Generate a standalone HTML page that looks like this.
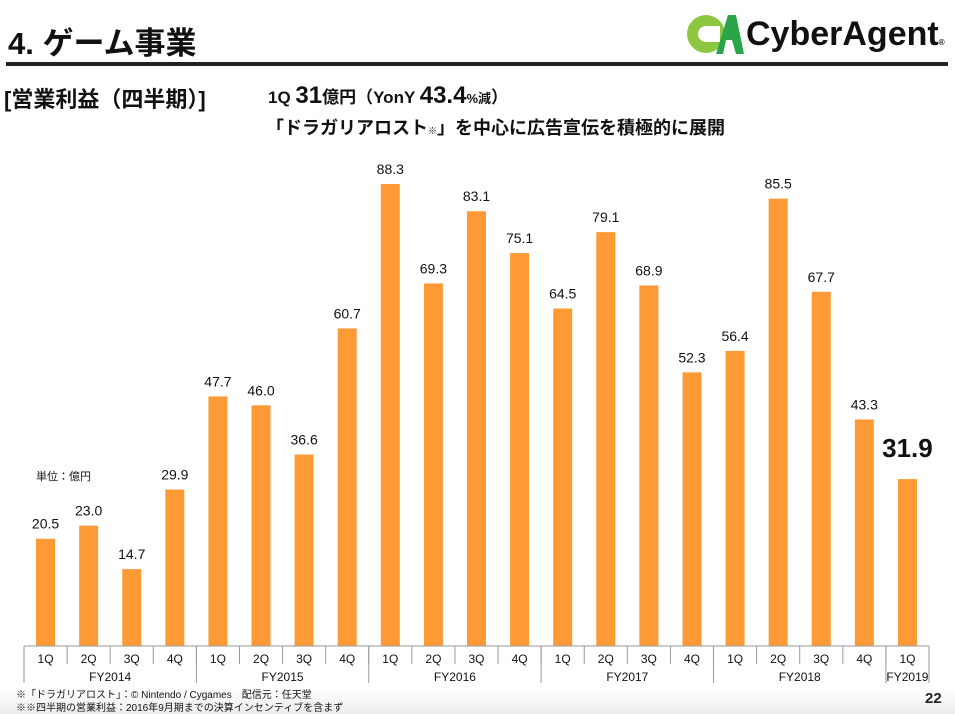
<!DOCTYPE html>
<html><head><meta charset="utf-8"><style>
body{margin:0;width:955px;height:714px;overflow:hidden;background:#fff;font-family:"Liberation Sans","Noto Sans CJK JP",sans-serif;position:relative}
.abs{position:absolute;white-space:nowrap}
</style></head><body>
<div class="abs" style="left:0;top:688px;width:955px;height:26px;background:linear-gradient(#fff,#ececec)"></div>
<div class="abs" style="left:8px;top:18px;font-size:31px;font-weight:bold;color:#111">4. ゲーム事業</div>
<div class="abs" style="left:6px;top:62px;width:942px;height:4px;background:#222"></div>
<div class="abs" style="left:686px;top:12px;height:44px;display:flex;align-items:center">
<svg width="58" height="44" viewBox="0 0 58 44"><circle cx="20" cy="22" r="19" fill="#8dc63f"/><circle cx="20" cy="22" r="8" fill="#fff"/><rect x="20" y="14" width="14" height="16" fill="#fff"/><path d="M30 42 L42 3 L50 3 L58 42 L50 42 L46 28 L40 28 L37 42Z" fill="#2aa54a"/></svg>
<span style="font-size:34px;font-weight:bold;color:#111;margin-left:2px;letter-spacing:0">CyberAgent<span style="font-size:8px">®</span></span></div>
<div class="abs" style="left:4px;top:82px;font-size:22px;font-weight:bold;color:#111">[営業利益（四半期）]</div>
<div class="abs" style="left:268px;top:82px;font-weight:bold;color:#111;font-size:17px">1Q <span style="font-size:24px">31</span>億円（YonY <span style="font-size:24px">43.4</span><span style="font-size:13px">%減</span>）</div>
<div class="abs" style="left:266px;top:114px;font-weight:bold;color:#111;font-size:18px">「ドラガリアロスト<span style="font-size:9px">※</span>」を中心に広告宣伝を積極的に展開</div>
<div class="abs" style="left:36px;top:468px;font-size:11px;color:#111">単位：億円</div>
<svg class="abs" style="left:0;top:0" width="955" height="714" id="chart"></svg>
<div class="abs" style="left:16px;top:686px;font-size:10px;color:#111">※「ドラガリアロスト」：© Nintendo / Cygames　配信元：任天堂</div>
<div class="abs" style="left:16px;top:699px;font-size:10px;color:#111">※※四半期の営業利益：2016年9月期までの決算インセンティブを含まず</div>
<div class="abs" style="left:925px;top:690px;font-size:15px;font-weight:bold;color:#222">22</div>
<script>
const quarters=["1Q","2Q","3Q","4Q","1Q","2Q","3Q","4Q","1Q","2Q","3Q","4Q","1Q","2Q","3Q","4Q","1Q","2Q","3Q","4Q","1Q"];
const values=[20.5,23.0,14.7,29.9,47.7,46.0,36.6,60.7,88.3,69.3,83.1,75.1,64.5,79.1,68.9,52.3,56.4,85.5,67.7,43.3,31.9];
const labels=["20.5","23.0","14.7","29.9","47.7","46.0","36.6","60.7","88.3","69.3","83.1","75.1","64.5","79.1","68.9","52.3","56.4","85.5","67.7","43.3","31.9"];
const fiscalYears=["FY2014","FY2015","FY2016","FY2017","FY2018","FY2019"];
const fyCounts=[4,4,4,4,4,1];
const svg=document.getElementById('chart');const NS='http://www.w3.org/2000/svg';
const x0=24,x1=929,base=646,band=(x1-x0)/values.length,pxPerUnit=5.232,bw=19;
const xs=i=>x0+band*(i+0.5);const ys=v=>base-v*pxPerUnit;
function mk(t,a){const e=document.createElementNS(NS,t);for(const k in a)e.setAttribute(k,a[k]);svg.appendChild(e);return e;}
values.forEach((v,i)=>{
 const r=mk('rect',{x:xs(i)-bw/2,y:ys(v),width:bw,height:base-ys(v),fill:'#fd9a35'});
 
 
 const last=i===values.length-1;
 const t=mk('text',{x:xs(i),y:ys(v)-(last?22:10),'text-anchor':'middle','font-size':last?26:14,'font-weight':last?'bold':'normal',fill:'#111','font-family':'Liberation Sans, sans-serif'});
 t.textContent=labels[i];
 
 
 const q=mk('text',{x:xs(i),y:663,'text-anchor':'middle','font-size':12,fill:'#111','font-family':'Liberation Sans, sans-serif'});
 q.textContent=quarters[i];
 
 
});
const ax=mk('line',{x1:x0,x2:x1,y1:base,y2:base,stroke:'#999','stroke-width':1});


for(let i=0;i<=values.length;i++){const l=mk('line',{x1:x0+band*i,x2:x0+band*i,y1:base,y2:664,stroke:'#999'});}
let s=0;
fyCounts.forEach((c,j)=>{
 const l=mk('line',{x1:x0+band*s,x2:x0+band*s,y1:base,y2:683,stroke:'#999'});
 
 
 const t=mk('text',{x:x0+band*(s+c/2),y:681,'text-anchor':'middle','font-size':12,fill:'#111','font-family':'Liberation Sans, sans-serif'});
 t.textContent=fiscalYears[j];
 
 
 s+=c;
});
const le=mk('line',{x1:x1,x2:x1,y1:base,y2:683,stroke:'#999'});


</script>
</body></html>
